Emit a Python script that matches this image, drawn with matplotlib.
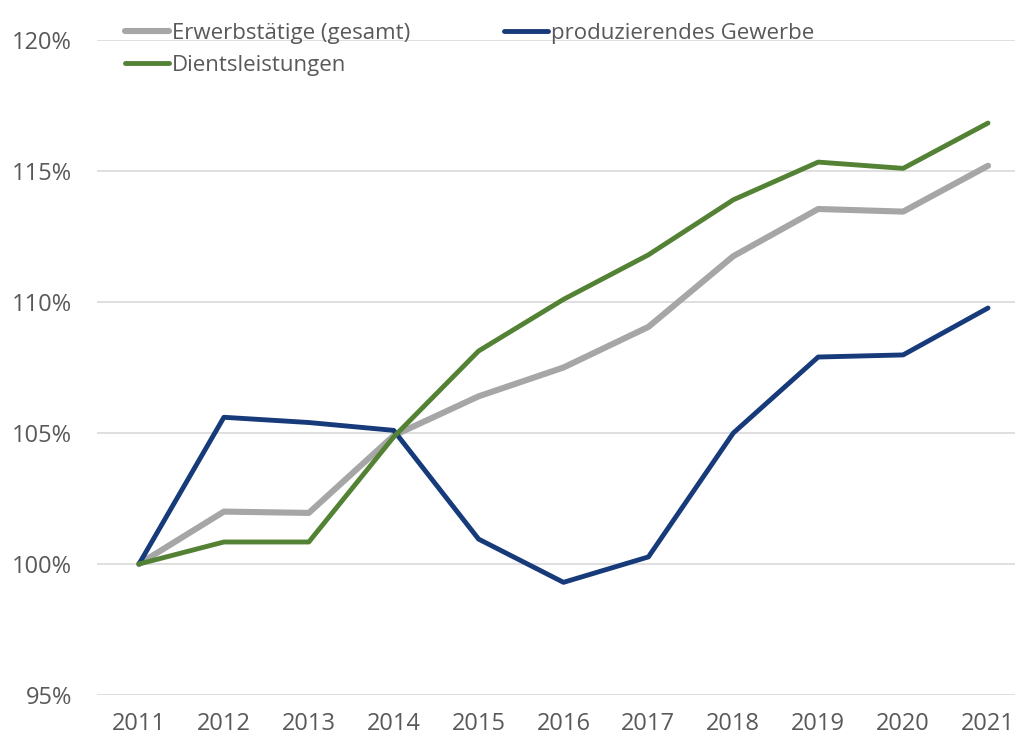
import matplotlib.pyplot as plt
from matplotlib.ticker import FuncFormatter

years = [2011, 2012, 2013, 2014, 2015, 2016, 2017, 2018, 2019, 2020, 2021]
gesamt = [100.0, 102.0, 101.95, 104.9, 106.4, 107.5, 109.05, 111.75, 113.55, 113.45, 115.2]
produzierend = [100.0, 105.6, 105.4, 105.1, 100.95, 99.3, 100.27, 105.0, 107.9, 107.98, 109.77]
dienst = [100.0, 100.84, 100.84, 104.85, 108.13, 110.1, 111.8, 113.9, 115.34, 115.1, 116.83]

yticks = [95, 100, 105, 110, 115, 120]

plt.rcParams['font.family'] = ['Open Sans', 'DejaVu Sans']

fig = plt.figure(figsize=(10.21, 7.34), dpi=100)
ax = fig.add_axes([97 / 1021, 1 - 695 / 734, 918 / 1021, 655 / 734])

l1, = ax.plot(years, gesamt, color='#A6A6A6', lw=4.4, solid_capstyle='round', label='Erwerbstätige (gesamt)', zorder=3)
l2, = ax.plot(years, produzierend, color='#163A7A', lw=3.5, solid_capstyle='round', label='produzierendes Gewerbe', zorder=4)
l3, = ax.plot(years, dienst, color='#548235', lw=3.5, solid_capstyle='round', label='Dientsleistungen', zorder=5)

ax.set_xlim(2011 - 42 / 84.9, 2021 + 27 / 84.9)
ax.set_ylim(95, 120)
ax.set_yticks(yticks)
ax.set_xticks(years)
ax.yaxis.set_major_formatter(FuncFormatter(lambda v, p: f'{v:.0f}%'))
ax.grid(axis='y', color='#D9D9D9', lw=1.2)
ax.set_axisbelow(True)
for s in ax.spines.values():
    s.set_visible(False)
ax.tick_params(length=0, labelsize=17, colors='#595959')
ax.tick_params(axis='x', pad=12)
ax.tick_params(axis='y', pad=18)

# Reihenfolge so, dass Zeile 1: gesamt | produzierend, Zeile 2: Dienstleistungen
leg = fig.legend([l1, l3, l2], [l1.get_label(), l3.get_label(), l2.get_label()],
                 loc='upper left', bbox_to_anchor=(105 / 1021, 1 - 3 / 734), ncol=2,
                 frameon=False, fontsize=16, handlelength=2.0, handletextpad=0.12,
                 columnspacing=4.2, labelspacing=0.5, labelcolor='#595959')

fig.savefig('out.png', dpi=100)
